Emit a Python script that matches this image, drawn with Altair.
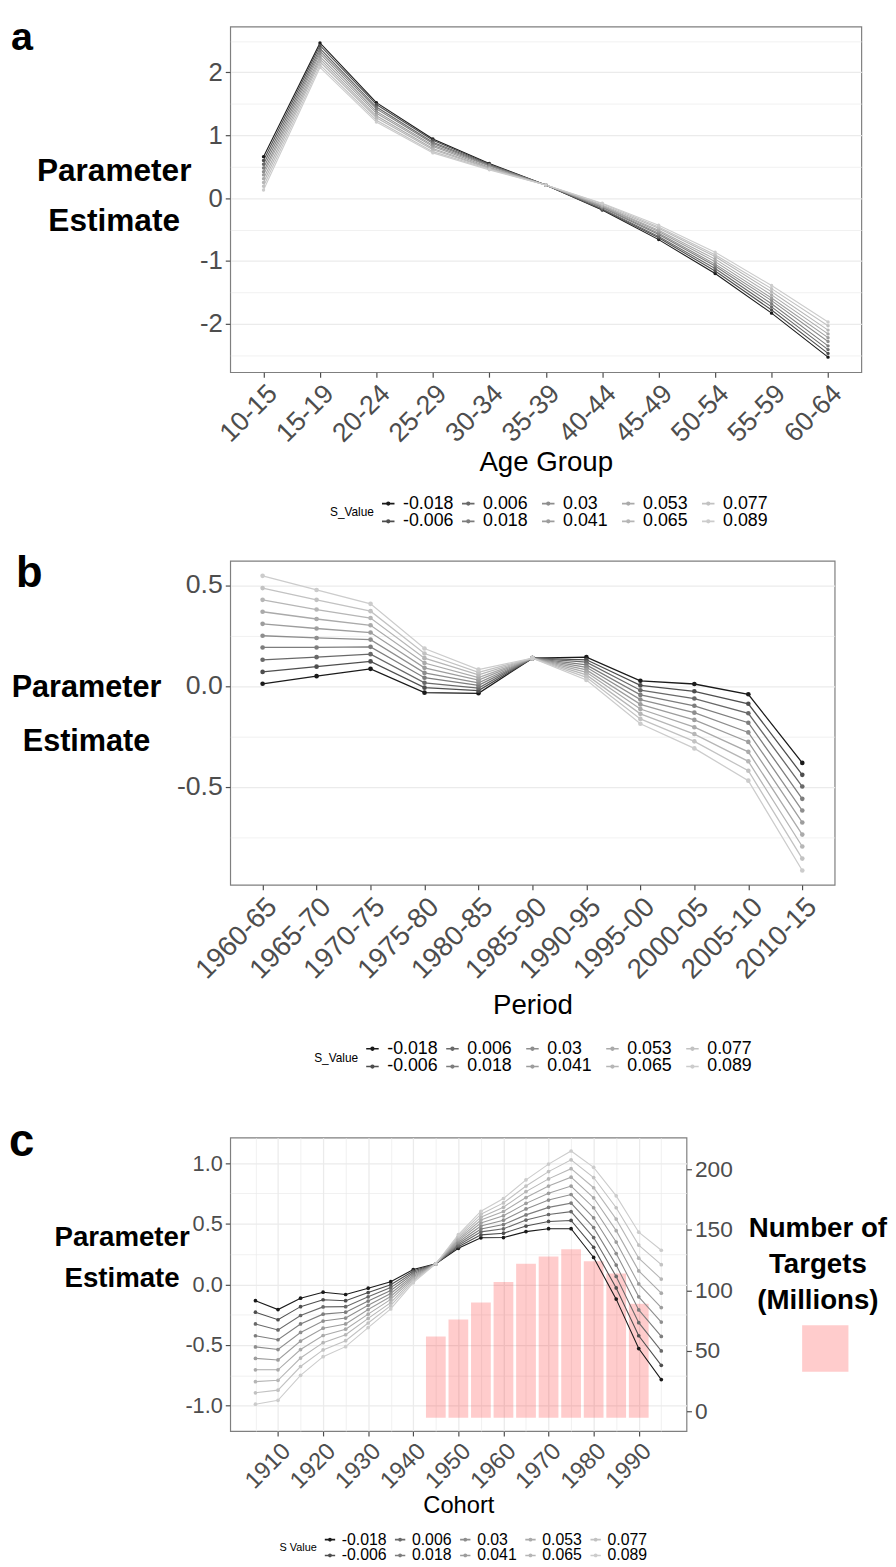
import altair as alt
import pandas as pd

FONT = "Liberation Sans"
MINUS = "\u2212"

S_VALUES = ["-0.018", "-0.006", "0.006", "0.018", "0.03", "0.041", "0.053", "0.065", "0.077", "0.089"]
GREYS = ["#1a1a1a", "#4e4e4e", "#696969", "#7d7d7d", "#8e8e8e", "#9d9d9d", "#aaaaaa", "#b6b6b6", "#c2c2c2", "#cccccc"]
# legend is filled column-wise in the original (2 rows x 5 columns)
LEGEND_ORDER = ["-0.018", "0.006", "0.03", "0.053", "0.077", "-0.006", "0.018", "0.041", "0.065", "0.089"]
LEGEND_COLORS = [GREYS[S_VALUES.index(s)] for s in LEGEND_ORDER]
PANEL_LABELS = ["a", "b", "c"]

# ---------------- panel a : age ----------------
AGE_GROUPS = ["10-15", "15-19", "20-24", "25-29", "30-34", "35-39", "40-44", "45-49", "50-54", "55-59", "60-64"]
# rows = age groups, columns = S values (-0.018 ... 0.089)
AGE_EST = [
    [0.66, 0.60, 0.54, 0.48, 0.42, 0.37, 0.31, 0.25, 0.19, 0.13],
    [2.47, 2.43, 2.38, 2.34, 2.30, 2.25, 2.21, 2.17, 2.12, 2.08],
    [1.52, 1.49, 1.45, 1.42, 1.38, 1.35, 1.31, 1.28, 1.24, 1.21],
    [0.94, 0.92, 0.89, 0.87, 0.84, 0.82, 0.79, 0.77, 0.74, 0.72],
    [0.55, 0.54, 0.53, 0.52, 0.51, 0.49, 0.48, 0.47, 0.46, 0.45],
    [0.21, 0.21, 0.21, 0.21, 0.21, 0.21, 0.21, 0.21, 0.21, 0.21],
    [-0.19, -0.18, -0.17, -0.15, -0.14, -0.13, -0.12, -0.11, -0.09, -0.08],
    [-0.66, -0.63, -0.61, -0.58, -0.56, -0.53, -0.51, -0.48, -0.46, -0.43],
    [-1.20, -1.16, -1.12, -1.08, -1.05, -1.01, -0.97, -0.93, -0.90, -0.86],
    [-1.83, -1.78, -1.73, -1.68, -1.63, -1.59, -1.54, -1.49, -1.44, -1.39],
    [-2.53, -2.47, -2.41, -2.35, -2.28, -2.22, -2.16, -2.10, -2.03, -1.97],
]

# ---------------- panel b : period ----------------
PERIODS = ["1960-65", "1965-70", "1970-75", "1975-80", "1980-85", "1985-90", "1990-95", "1995-00", "2000-05", "2005-10", "2010-15"]
PERIOD_EST = [
    [0.011, 0.070, 0.130, 0.191, 0.249, 0.308, 0.368, 0.427, 0.485, 0.546],
    [0.049, 0.096, 0.143, 0.191, 0.238, 0.285, 0.332, 0.379, 0.427, 0.476],
    [0.085, 0.122, 0.158, 0.194, 0.230, 0.265, 0.301, 0.337, 0.371, 0.407],
    [-0.033, -0.008, 0.016, 0.041, 0.065, 0.090, 0.114, 0.138, 0.161, 0.186],
    [-0.036, -0.023, -0.010, 0.003, 0.016, 0.029, 0.042, 0.055, 0.068, 0.081],
    [0.138, 0.138, 0.138, 0.138, 0.138, 0.138, 0.138, 0.138, 0.138, 0.138],
    [0.143, 0.130, 0.118, 0.105, 0.093, 0.080, 0.068, 0.055, 0.043, 0.030],
    [0.026, 0.003, -0.021, -0.044, -0.067, -0.091, -0.114, -0.138, -0.163, -0.187],
    [0.010, -0.026, -0.062, -0.098, -0.132, -0.168, -0.204, -0.238, -0.274, -0.309],
    [-0.041, -0.088, -0.135, -0.182, -0.230, -0.277, -0.326, -0.373, -0.420, -0.469],
    [-0.381, -0.440, -0.498, -0.559, -0.617, -0.676, -0.736, -0.795, -0.855, -0.914],
]

# ---------------- panel c : cohort ----------------
COHORTS = [1905, 1910, 1915, 1920, 1925, 1930, 1935, 1940, 1945, 1950,
           1955, 1960, 1965, 1970, 1975, 1980, 1985, 1990, 1995]
COHORT_EST = [
    [-0.135, -0.230, -0.327, -0.424, -0.516, -0.611, -0.705, -0.803, -0.895, -0.989],
    [-0.208, -0.292, -0.376, -0.457, -0.538, -0.624, -0.705, -0.792, -0.873, -0.957],
    [-0.114, -0.184, -0.257, -0.327, -0.397, -0.468, -0.538, -0.608, -0.678, -0.751],
    [-0.065, -0.127, -0.186, -0.246, -0.303, -0.362, -0.422, -0.481, -0.541, -0.597],
    [-0.084, -0.135, -0.184, -0.230, -0.278, -0.327, -0.370, -0.416, -0.465, -0.514],
    [-0.032, -0.068, -0.103, -0.138, -0.173, -0.208, -0.246, -0.281, -0.319, -0.357],
    [0.022, -0.003, -0.027, -0.051, -0.076, -0.100, -0.124, -0.151, -0.176, -0.203],
    [0.122, 0.110, 0.098, 0.086, 0.074, 0.062, 0.050, 0.038, 0.026, 0.014],
    [0.170, 0.170, 0.170, 0.170, 0.170, 0.170, 0.170, 0.170, 0.170, 0.170],
    [0.297, 0.310, 0.322, 0.335, 0.347, 0.360, 0.372, 0.385, 0.397, 0.410],
    [0.384, 0.408, 0.433, 0.457, 0.481, 0.506, 0.530, 0.554, 0.579, 0.603],
    [0.386, 0.422, 0.458, 0.493, 0.529, 0.565, 0.601, 0.636, 0.672, 0.708],
    [0.435, 0.481, 0.530, 0.573, 0.622, 0.668, 0.716, 0.765, 0.811, 0.862],
    [0.459, 0.519, 0.576, 0.635, 0.695, 0.751, 0.811, 0.870, 0.930, 0.992],
    [0.459, 0.527, 0.600, 0.670, 0.741, 0.811, 0.884, 0.954, 1.027, 1.100],
    [0.222, 0.305, 0.386, 0.468, 0.549, 0.632, 0.714, 0.797, 0.881, 0.965],
    [-0.122, -0.030, 0.065, 0.159, 0.254, 0.349, 0.443, 0.538, 0.632, 0.730],
    [-0.530, -0.424, -0.316, -0.211, -0.103, 0.003, 0.111, 0.216, 0.324, 0.430],
    [-0.786, -0.668, -0.549, -0.430, -0.311, -0.192, -0.073, 0.043, 0.162, 0.281],
]
BAR_COHORTS = [1945, 1950, 1955, 1960, 1965, 1970, 1975, 1980, 1985, 1990]
TARGETS = [62, 76, 90, 107, 122, 128, 134, 124, 114, 89]
BAR_BASE = -5


def long_df(cats, rows, name):
    recs = []
    for c, row in zip(cats, rows):
        for s, v in zip(S_VALUES, row):
            recs.append({name: c, "S_Value": s, "Estimate": v})
    return pd.DataFrame(recs)


age_df = long_df(AGE_GROUPS, AGE_EST, "Age Group")
period_df = long_df(PERIODS, PERIOD_EST, "Period")
cohort_df = long_df(COHORTS, COHORT_EST, "Cohort")
bar_df = pd.DataFrame({"Cohort": BAR_COHORTS, "Targets": TARGETS,
                       "Series": ["Number of Targets (Millions)"] * len(TARGETS)})

SYMBOL = "M-1,0H1M-0.22,0A0.22,0.22,0,1,1,0.22,0A0.22,0.22,0,1,1,-0.22,0Z"


def color_enc(lx, ly, label_size, title, title_size, sym_size, col_pad, label_offset,
              pad=0, grid_align="all"):
    return alt.Color(
        "S_Value:N",
        scale=alt.Scale(domain=LEGEND_ORDER, range=LEGEND_COLORS),
        legend=alt.Legend(
            title=title, orient="none", legendX=lx - pad, legendY=ly - pad, padding=pad,
            direction="horizontal", columns=5, gridAlign=grid_align,
            titleOrient="left", titleAnchor="middle", titleBaseline="middle",
            titleFontSize=title_size, titleFontWeight="normal", titleFont=FONT,
            titleColor="black", titlePadding=5,
            labelFontSize=label_size, labelFont=FONT, labelColor="black",
            labelOffset=label_offset, columnPadding=col_pad, rowPadding=0,
            symbolType=SYMBOL, symbolSize=sym_size, symbolStrokeWidth=1.6,
        ),
    )


def minor_cond(test, major, minor):
    return {"condition": {"test": test, "value": major}, "value": minor}


def y_axis(values, test, label_expr, label_size, title_x, title_y, title_size, line_h):
    return alt.Axis(
        values=values, labelExpr=label_expr, grid=True,
        tickOpacity=minor_cond(test, 1, 0),
        gridWidth=minor_cond(test, 1.3, 0.7),
        labelFontSize=label_size,
        title=["Parameter", "Estimate"], titleAngle=0, titleAlign="center",
        titleBaseline="top", titleX=title_x, titleY=title_y,
        titleFontSize=title_size, titleFontWeight="bold", titleLineHeight=line_h,
    )


def x_axis_title(title, size, ty):
    return dict(title=title, titleFontSize=size, titleFontWeight="normal", titleY=ty,
                titleBaseline="middle")


def panel_letter(i, size, x, y):
    return alt.Chart(pd.DataFrame({"panel": [PANEL_LABELS[i]]})).mark_text(
        font=FONT, fontSize=size, fontWeight="bold", color="black",
        align="left", baseline="alphabetic",
    ).encode(text="panel:N", x=alt.value(x), y=alt.value(y))


# ---------- panel a ----------
A_W, A_H = 639, 350
lines_a = alt.Chart(age_df).mark_line(
    strokeWidth=1.1, point=alt.OverlayMarkDef(size=12, filled=True, opacity=1)
).encode(
    x=alt.X("Age Group:N", sort=AGE_GROUPS, scale=alt.Scale(type="point", padding=0.59),
            axis=alt.Axis(labelAngle=-45, labelAlign="right", labelBaseline="top",
                          labelFontSize=27, **x_axis_title("Age Group", 28, 91))),
    y=alt.Y("Estimate:Q", scale=alt.Scale(domain=[-2.77, 2.73], nice=False, zero=False),
            axis=y_axis([-2.5, -2, -1.5, -1, -0.5, 0, 0.5, 1, 1.5, 2, 2.5],
                        "datum.value % 1 == 0",
                        "datum.value % 1 == 0 ? '' + datum.value : ''",
                        26, -118, 131, 32, 51)),
    color=color_enc(101, 474, 18, "S_Value", 12, 160, 4, 6),
    detail="S_Value:N",
)
chart_a = alt.layer(lines_a, panel_letter(0, 40, -222, 24)).properties(width=A_W, height=A_H)

# ---------- panel b ----------
B_W, B_H = 612, 328
lines_b = alt.Chart(period_df).mark_line(
    strokeWidth=1.3, point=alt.OverlayMarkDef(size=22, filled=True, opacity=1)
).encode(
    x=alt.X("Period:N", sort=PERIODS, scale=alt.Scale(type="point", padding=0.6),
            axis=alt.Axis(labelAngle=-45, labelAlign="right", labelBaseline="top",
                          labelFontSize=28, **x_axis_title("Period", 28, 122))),
    y=alt.Y("Estimate:Q", scale=alt.Scale(domain=[-0.985, 0.62], nice=False, zero=False),
            axis=y_axis([-0.75, -0.5, -0.25, 0, 0.25, 0.5],
                        "datum.value % 0.5 == 0",
                        "datum.value % 0.5 == 0 ? replace(format(datum.value, '.1f'), '" + MINUS + "', '-') : ''",
                        27, -146, 113, 31, 55)),
    color=color_enc(85, 485, 18, "S_Value", 12, 160, 4, 6, pad=23),
    detail="S_Value:N",
)
chart_b = alt.layer(lines_b, panel_letter(1, 44, -217, 26)).properties(width=B_W, height=B_H)

# ---------- panel c ----------
C_W, C_H = 462, 297
x_c = alt.X("Cohort:Q", scale=alt.Scale(domain=[1900.5, 1999.5], nice=False, zero=False),
            axis=alt.Axis(values=COHORTS,
                          labelExpr="datum.value % 10 == 0 ? '' + datum.value : ''",
                          labelOverlap=False, labelFlush=False, labelBound=False,
                          tickOpacity=minor_cond("datum.value % 10 == 0", 1, 0),
                          gridWidth=minor_cond("datum.value % 10 == 0", 1.3, 0.7),
                          labelAngle=-45, labelAlign="right", labelBaseline="top",
                          labelFontSize=24, **x_axis_title("Cohort", 24, 76)))

bars_c = alt.Chart(bar_df).mark_bar(size=20, opacity=0.2).encode(
    x=x_c,
    y=alt.Y("Targets:Q", scale=alt.Scale(domain=[-16, 226], nice=False, zero=False),
            axis=alt.Axis(orient="right", values=[0, 50, 100, 150, 200], grid=False,
                          title=None, labelFontSize=23)),
    y2=alt.datum(BAR_BASE),
    fill=alt.Fill("Series:N", scale=alt.Scale(range=["#ff0000"]),
                  legend=alt.Legend(
                      title=["Number of", "Targets", "(Millions)"], orient="none",
                      legendX=525, legendY=79, titleAnchor="middle", titleAlign="center",
                      titleFontSize=28, titleFontWeight="bold", titleFont=FONT,
                      titleColor="black", titleLineHeight=36, titlePadding=11,
                      labelExpr="''", labelFontSize=1, labelOffset=0,
                      symbolType="square", symbolSize=2200, symbolOpacity=0.2,
                      symbolStrokeWidth=0, symbolOffset=16)),
)

lines_c = alt.Chart(cohort_df).mark_line(
    strokeWidth=1.1, point=alt.OverlayMarkDef(size=14, filled=True, opacity=1)
).encode(
    x=x_c,
    y=alt.Y("Estimate:Q", scale=alt.Scale(domain=[-1.21, 1.21], nice=False, zero=False),
            axis=y_axis([-1, -0.75, -0.5, -0.25, 0, 0.25, 0.5, 0.75, 1],
                        "datum.value % 0.5 == 0",
                        "datum.value % 0.5 == 0 ? replace(format(datum.value, '.1f'), '" + MINUS + "', '-') : ''",
                        22, -110, 87, 28, 42)),
    color=color_enc(50, 399, 16, "S Value", 11, 110, 4, 4, grid_align="each"),
    detail="S_Value:N",
)

chart_c = alt.layer(bars_c, lines_c, panel_letter(2, 46, -224, 19)).resolve_scale(
    y="independent").properties(width=C_W, height=C_H)

chart = alt.vconcat(chart_a, chart_b, chart_c, spacing=20).resolve_scale(
    color="independent", x="independent", y="independent", fill="independent"
).resolve_legend(color="independent", fill="independent").configure(
    font=FONT, padding=0
).configure_view(
    stroke="#7f7f7f", strokeWidth=1.2
).configure_axis(
    labelFont=FONT, titleFont=FONT, labelColor="#4d4d4d", titleColor="black",
    tickColor="#4d4d4d", tickSize=5, tickWidth=1.2, domain=False,
    gridColor="#ebebeb", labelPadding=3,
)

chart.save("out.html", embed_options={"renderer": "svg", "actions": False})
